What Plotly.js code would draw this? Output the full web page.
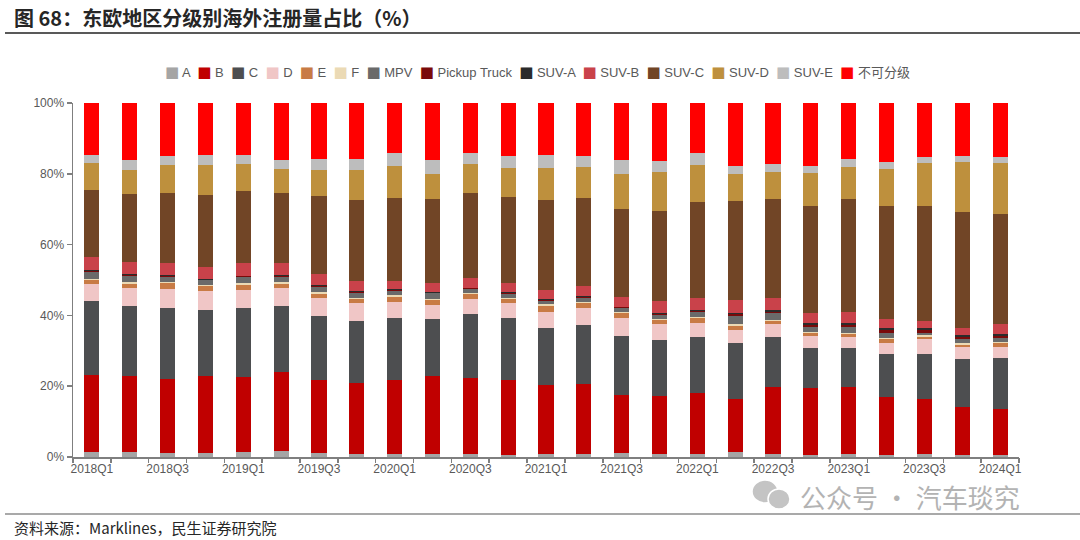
<!DOCTYPE html>
<html><head><meta charset="utf-8">
<script src="https://cdn.plot.ly/plotly-3.0.1.min.js"></script>
<style>html,body{margin:0;padding:0;background:#fff}#chart{width:1080px;height:540px}</style>
</head><body><div id="chart"></div>
<script>
const quarters = ["2018Q1","2018Q2","2018Q3","2018Q4","2019Q1","2019Q2","2019Q3","2019Q4","2020Q1","2020Q2","2020Q3","2020Q4","2021Q1","2021Q2","2021Q3","2021Q4","2022Q1","2022Q2","2022Q3","2022Q4","2023Q1","2023Q2","2023Q3","2023Q4","2024Q1"];
const tickLabels = ["2018Q1","2018Q3","2019Q1","2019Q3","2020Q1","2020Q3","2021Q1","2021Q3","2022Q1","2022Q3","2023Q1","2023Q3","2024Q1"];
const seriesNames = ["A","B","C","D","E","F","MPV","Pickup Truck","SUV-A","SUV-B","SUV-C","SUV-D","SUV-E","不可分级"];
const seriesColors = ["#A5A5A5","#C00000","#4D4E50","#F0C6C6","#C87B45","#EBDAB5","#6A6A6A","#7A0A0A","#2B2B2B","#C9424A","#714526","#BE903D","#BDBDBD","#FF0000"];

const valA      = [1.5,1.5,1.2,1.0,1.3,1.7,1.0,0.8,0.8,0.8,0.8,0.6,0.8,0.8,1.0,0.8,0.8,1.5,0.8,0.6,0.8,0.6,0.8,0.6,0.6];
const valB      = [21.5,21.4,20.8,22.0,21.4,22.3,20.7,20.0,20.9,22.1,21.4,21.2,19.5,19.7,16.6,16.5,17.2,14.9,19.1,18.8,19.1,16.4,15.5,13.6,13.0];
const valC      = [20.9,19.8,20.2,18.6,19.3,18.7,18.1,17.5,17.5,16.1,18.1,17.4,16.2,16.8,16.6,15.8,15.8,15.7,14.1,11.4,10.8,12.1,12.8,13.4,14.5];
const valD      = [4.9,5.0,5.3,5.4,5.2,5.0,5.0,5.1,4.7,3.9,4.3,4.2,4.5,4.7,5.0,4.4,4.1,3.8,3.5,3.4,3.3,3.2,4.1,3.4,3.1];
const valE      = [1.0,1.3,1.6,1.4,1.4,1.3,1.2,1.1,1.4,1.5,1.4,1.1,1.7,1.4,1.4,1.2,1.3,1.2,0.9,0.7,0.7,0.9,0.8,0.6,0.9];
const valF      = [0.4,0.4,0.3,0.3,0.5,0.4,0.5,0.4,0.5,0.2,0.4,0.3,0.4,0.4,0.3,0.3,0.4,0.5,0.3,0.5,0.4,0.3,0.5,0.5,0.3];
const valMPV    = [1.9,1.7,1.5,1.2,1.7,1.5,1.6,1.5,1.1,1.6,1.1,1.2,1.0,1.0,1.1,1.1,1.4,2.2,1.9,1.2,1.7,1.6,0.6,1.2,1.1];
const valPickup = [0.4,0.3,0.3,0.2,0.2,0.3,0.3,0.3,0.3,0.2,0.15,0.2,0.2,0.35,0.25,0.25,0.25,0.5,0.45,0.6,0.55,0.65,0.65,0.6,0.6];
const valSUVA   = [0.3,0.2,0.3,0.3,0.2,0.3,0.2,0.3,0.3,0.3,0.15,0.3,0.2,0.35,0.25,0.25,0.25,0.5,0.45,0.6,0.55,0.65,0.65,0.6,0.6];
const valSUVB   = [3.6,3.6,3.4,3.4,3.7,3.4,3.1,2.8,2.3,2.5,2.8,2.6,2.7,2.8,2.8,3.5,3.3,3.6,3.5,3.0,3.1,2.5,2.1,2.0,2.9];
const valSUVC   = [18.8,19.1,19.6,20.3,20.3,19.6,21.9,22.8,23.3,23.6,24.1,24.3,25.4,24.9,24.8,25.5,27.3,28.0,27.8,30.1,31.9,32.1,32.5,32.8,31.1];
const valSUVD   = [7.6,6.9,8.0,8.3,7.6,6.9,7.6,8.4,9.2,7.2,8.0,8.2,9.1,8.7,9.9,10.8,10.3,7.5,7.8,9.2,8.9,10.4,12.1,14.1,14.3];
const valSUVE   = [2.3,2.6,2.5,2.9,2.5,2.4,2.9,3.1,3.5,3.8,3.1,3.3,3.6,3.1,3.9,3.3,3.6,2.4,2.2,2.2,2.5,2.0,1.7,1.7,1.7];
const valNone   = [14.7,16.2,15.0,14.7,14.7,16.2,15.9,15.9,14.2,16.2,14.2,15.1,14.7,15.0,16.1,16.3,14.0,17.7,17.2,17.7,15.7,16.6,15.2,14.9,15.3];

const seriesValues = [valA,valB,valC,valD,valE,valF,valMPV,valPickup,valSUVA,valSUVB,valSUVC,valSUVD,valSUVE,valNone];

const FONT = "Arial, Liberation Sans, Noto Sans CJK SC, sans-serif";
const CJK = "Noto Sans CJK SC, Liberation Sans, sans-serif";

const traces = seriesNames.map((name, i) => ({
  type: 'bar',
  name: name,
  x: quarters,
  y: seriesValues[i],
  marker: {color: seriesColors[i], line: {width: 0}},
  showlegend: false,
  hoverinfo: 'name+y'
}));

const boundaries = [];
for (let i = 0; i <= quarters.length; i++) boundaries.push(i - 0.5);

const legendHtml = seriesNames.map((n, i) =>
  `<span style="color:${seriesColors[i]};font-family:DejaVu Sans;font-size:15px">■</span> ${n}`).join('  ');

const layout = {
  width: 1080, height: 540,
  margin: {l: 73, r: 61, t: 103, b: 83},
  paper_bgcolor: '#ffffff', plot_bgcolor: '#ffffff',
  font: {family: FONT, size: 12, color: '#595959'},
  barmode: 'stack',
  barnorm: 'percent',
  bargap: 0.6,
  title: {
    text: '<b>图 68：东欧地区分级别海外注册量占比（%）</b>',
    x: 14/1080, xanchor: 'left', xref: 'container',
    y: 1 - 19/540, yanchor: 'middle', yref: 'container',
    font: {family: CJK, size: 20, color: '#262626'}
  },
  xaxis: {
    type: 'category',
    range: [-0.5, quarters.length - 0.5],
    tickmode: 'array', tickvals: tickLabels, ticktext: tickLabels,
    ticks: '', showline: true, linecolor: '#7F7F7F', linewidth: 1.5,
    showgrid: false, zeroline: false,
    tickfont: {family: FONT, size: 12, color: '#595959'},
    fixedrange: true
  },
  xaxis2: {
    overlaying: 'x', anchor: 'y', side: 'bottom',
    type: 'linear', range: [-0.5, quarters.length - 0.5],
    tickmode: 'array', tickvals: boundaries, ticktext: boundaries.map(() => ''),
    ticks: 'outside', ticklen: 5, tickcolor: '#7F7F7F', tickwidth: 1.5,
    showline: false, showgrid: false, zeroline: false, showticklabels: false
  },
  yaxis: {
    range: [0, 100], dtick: 20, tick0: 0, ticksuffix: '%',
    ticks: 'outside', ticklen: 5, tickcolor: '#7F7F7F', tickwidth: 1.5,
    showline: true, linecolor: '#7F7F7F', linewidth: 1.5,
    showgrid: false, zeroline: false,
    tickfont: {family: FONT, size: 12, color: '#595959'},
    fixedrange: true
  },
  shapes: [
    {type: 'line', xref: 'paper', yref: 'paper', x0: (5-73)/946, x1: (1080-73)/946, y0: (457-33)/354, y1: (457-33)/354,
     line: {color: '#595959', width: 2}},
    {type: 'line', xref: 'paper', yref: 'paper', x0: (5-73)/946, x1: (1080-73)/946, y0: (457-514)/354, y1: (457-514)/354,
     line: {color: '#8C8C8C', width: 1.5}},
    {type: 'circle', xref: 'paper', yref: 'paper', x0: (752-73)/946, x1: (778-73)/946, y0: (457-503)/354, y1: (457-480)/354,
     fillcolor: '#C4C4C4', line: {color: '#ffffff', width: 1.5}},
    {type: 'circle', xref: 'paper', yref: 'paper', x0: (768-73)/946, x1: (790-73)/946, y0: (457-509)/354, y1: (457-489)/354,
     fillcolor: '#C4C4C4', line: {color: '#ffffff', width: 1.5}}
  ],
  annotations: [
    {text: legendHtml, xref: 'paper', yref: 'paper', x: (537-73)/946, y: 1 + 31/354,
     xanchor: 'center', yanchor: 'middle', showarrow: false,
     font: {family: FONT, size: 13, color: '#595959'}},
    {text: '资料来源：Marklines，民生证券研究院', xref: 'paper', yref: 'paper', x: (12-73)/946, y: (457-527)/354,
     xanchor: 'left', yanchor: 'middle', showarrow: false,
     font: {family: CJK, size: 15, color: '#262626'}},
    {text: '公众号 · 汽车琰究', xref: 'paper', yref: 'paper', x: (798-73)/946, y: (457-496)/354,
     xanchor: 'left', yanchor: 'middle', showarrow: false,
     font: {family: CJK, size: 26, color: '#B3B3B3'}}
  ]
};

traces.push({type: 'scatter', x: [0], y: [0], xaxis: 'x2', yaxis: 'y', mode: 'markers',
  marker: {opacity: 0}, showlegend: false, hoverinfo: 'skip'});

Plotly.newPlot('chart', traces, layout, {displayModeBar: false, staticPlot: true});
</script>
</body></html>
